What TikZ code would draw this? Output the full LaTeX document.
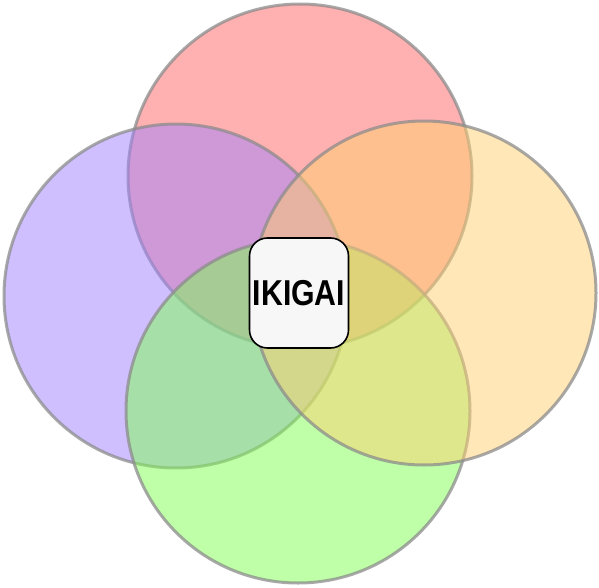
\documentclass[tikz,border=0pt]{standalone}
\usepackage{fontspec}
\setmainfont{Liberation Sans}
\usepackage{tikz}

\definecolor{ringred}{HTML}{FF6262}
\definecolor{ringpurple}{HTML}{A080FF}
\definecolor{ringyellow}{HTML}{FFD070}
\definecolor{ringgreen}{HTML}{80FF52}

\begin{document}
\begin{tikzpicture}[x=1pt,y=-1pt,
    ring/.style={circle, minimum size=344pt, inner sep=0pt, draw=black!45, line width=3pt,
                 draw opacity=0.75, fill opacity=0.5},
    centrebox/.style={draw=black, line width=1.6pt, fill=black!3, rounded corners=18pt,
                      minimum width=99pt, minimum height=110pt, inner sep=0pt,
                      font=\bfseries\fontsize{36}{36}\selectfont}]
        % Fix the page size
        \useasboundingbox (0,0) rectangle (599,588);

        % Draw the four circles
        \node[ring, fill=ringred] (love) at (300,176) {};
        \node[ring, fill=ringpurple] (good) at (176,296) {};
        \node[ring, fill=ringgreen] (need) at (298,411) {};
        \node[ring, fill=ringyellow] (paid) at (424,293) {};

        % Label the centre
        \node[centrebox] (ikigai) at (299,293) {\scalebox{0.84}[1]{IKIGAI}};
    \end{tikzpicture}
\end{document}
